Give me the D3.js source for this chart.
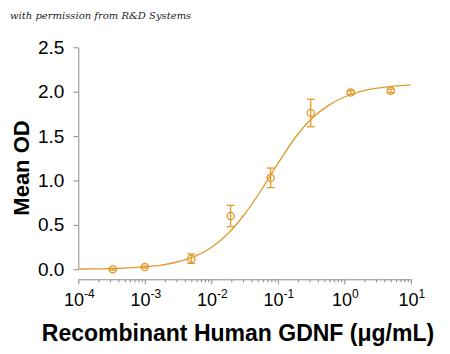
<!DOCTYPE html>
<html>
<head>
<meta charset="utf-8">
<script src="https://cdn.jsdelivr.net/npm/d3@7"></script>
<style>
  body { margin: 0; background: #fff; }
  svg { display: block; }
  .axis path, .axis line { stroke: #8a8a8a; stroke-width: 1; }
  .axis text { font-family: "Liberation Sans", Arial, sans-serif; fill: #000; }
</style>
</head>
<body>
<div id="chart"></div>
<script>
// measured points (concentration in ug/mL, mean OD, +/- error)
const conc = [0.00033, 0.001, 0.005, 0.0195, 0.078, 0.3125, 1.25, 5];
const meanOD = [0.00, 0.025, 0.12, 0.60, 1.03, 1.76, 1.99, 2.01];
const errOD = [0.01, 0.01, 0.053, 0.12, 0.11, 0.155, 0.02, 0.02];

// fitted curve (log10 conc, OD)
const curveLogX = [-4, -3.75, -3.5, -3.25, -3, -2.75, -2.5, -2.25, -2, -1.75, -1.5, -1.25, -1, -0.75, -0.5, -0.25, 0, 0.25, 0.5, 0.75, 1];
const curveOD = [0.003, 0.005, 0.009, 0.016, 0.028, 0.048, 0.085, 0.146, 0.246, 0.40, 0.62, 0.89, 1.19, 1.47, 1.69, 1.84, 1.94, 2.005, 2.04, 2.063, 2.074];

const yTicks = [0, 0.5, 1.0, 1.5, 2.0, 2.5];
const xDecades = [-4, -3, -2, -1, 0, 1];

const width = 450, height = 354;
const orange = "#e39a2d";

const svg = d3.select("#chart").append("svg")
    .attr("width", width)
    .attr("height", height);

const x = d3.scaleLog().domain([1e-4, 10]).range([78.3, 410.8]);
const y = d3.scaleLinear().domain([0, 2.5]).range([269.3, 47.3]);

// watermark
svg.append("text")
    .attr("x", 10).attr("y", 19)
    .style("font-family", "'DejaVu Serif', 'Liberation Serif', serif")
    .style("font-style", "italic")
    .style("font-size", "10px")
    .style("fill", "#1a1a2a")
    .text("with permission from R&D Systems");

// y axis
const yAxis = svg.append("g")
    .attr("class", "axis")
    .attr("transform", "translate(78.3,0)")
    .call(d3.axisLeft(y).tickValues(yTicks).tickFormat(d3.format(".1f"))
        .tickSize(5).tickSizeOuter(0).tickPadding(9));
yAxis.selectAll("text").style("font-size", "19px");

// x axis with minor ticks
const allTicks = x.ticks();
const isDecade = d => Math.abs(Math.log10(d) - Math.round(Math.log10(d))) < 1e-6;
const xAxis = svg.append("g")
    .attr("class", "axis")
    .attr("transform", "translate(0,279.3)")
    .call(d3.axisBottom(x).tickValues(allTicks).tickFormat("").tickSizeOuter(0));
xAxis.selectAll(".tick line")
    .attr("y2", d => isDecade(d) ? 5 : 3);

const xLab = xAxis.selectAll(".decade")
    .data(xDecades)
    .enter().append("text")
    .attr("class", "decade")
    .attr("x", d => x(Math.pow(10, d)) + 1)
    .attr("y", 27)
    .attr("text-anchor", "middle")
    .style("font-size", "18px");
xLab.append("tspan").text("10");
xLab.append("tspan")
    .attr("dy", -8)
    .style("font-size", "12px")
    .text(d => d);

// axis titles
svg.append("text")
    .attr("x", 238).attr("y", 341)
    .attr("text-anchor", "middle")
    .style("font-family", "'Liberation Sans', Arial, sans-serif")
    .style("font-weight", "bold")
    .style("font-size", "23px")
    .text("Recombinant Human GDNF (\u03BCg/mL)");

svg.append("text")
    .attr("transform", "translate(29,168) rotate(-90)")
    .attr("text-anchor", "middle")
    .style("font-family", "'Liberation Sans', Arial, sans-serif")
    .style("font-weight", "bold")
    .style("font-size", "22px")
    .text("Mean OD");

// fitted curve
const line = d3.line()
    .x(d => x(Math.pow(10, d[0])))
    .y(d => y(d[1]))
    .curve(d3.curveMonotoneX);

svg.append("path")
    .datum(curveLogX.map((v, i) => [v, curveOD[i]]))
    .attr("d", line)
    .attr("fill", "none")
    .attr("stroke", orange)
    .attr("stroke-width", 1.3);

// error bars and markers
const pts = conc.map((c, i) => ({ c: c, m: meanOD[i], e: errOD[i] }));
const g = svg.append("g").selectAll("g").data(pts).enter().append("g");

g.append("line")
    .attr("x1", d => x(d.c)).attr("x2", d => x(d.c))
    .attr("y1", d => y(d.m + d.e)).attr("y2", d => y(d.m - d.e))
    .attr("stroke", orange).attr("stroke-width", 1.3);
g.append("line")
    .attr("x1", d => x(d.c) - 4).attr("x2", d => x(d.c) + 4)
    .attr("y1", d => y(d.m + d.e)).attr("y2", d => y(d.m + d.e))
    .attr("stroke", orange).attr("stroke-width", 1.3);
g.append("line")
    .attr("x1", d => x(d.c) - 4).attr("x2", d => x(d.c) + 4)
    .attr("y1", d => y(d.m - d.e)).attr("y2", d => y(d.m - d.e))
    .attr("stroke", orange).attr("stroke-width", 1.3);
g.append("circle")
    .attr("cx", d => x(d.c)).attr("cy", d => y(d.m))
    .attr("r", 3.6)
    .attr("fill", "none")
    .attr("stroke", orange)
    .attr("stroke-width", 1.3);
</script>
</body>
</html>
